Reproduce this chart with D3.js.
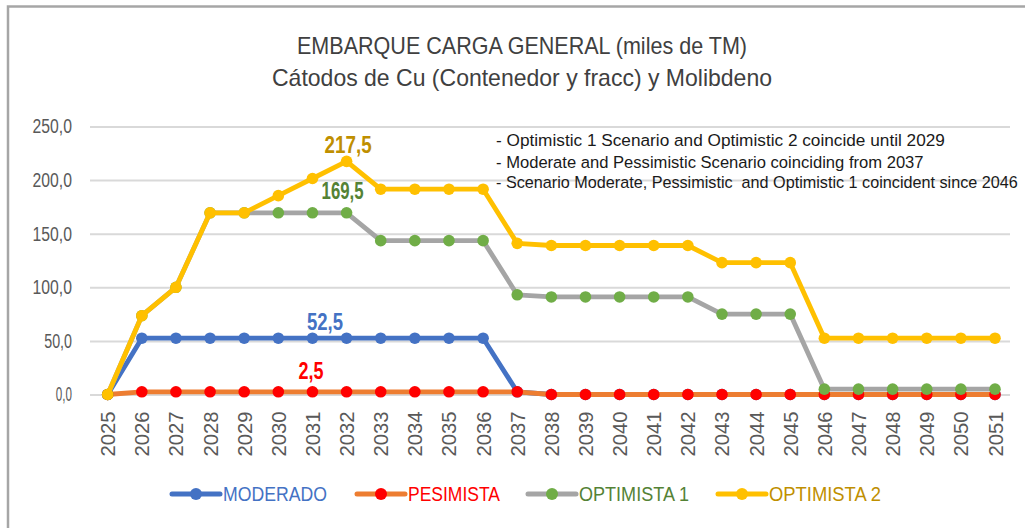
<!DOCTYPE html>
<html><head><meta charset="utf-8">
<script src="https://cdn.jsdelivr.net/npm/d3@7"></script>
<style>
html,body{margin:0;padding:0;background:#fff;}
svg{display:block;}
</style></head>
<body>
<svg id="chart" width="1025" height="528"></svg>
<script>
const years = d3.range(2025, 2052);
const moderado   = [0,52.5,52.5,52.5,52.5,52.5,52.5,52.5,52.5,52.5,52.5,52.5,2.5,0,0,0,0,0,0,0,0,0,0,0,0,0,0];
const pesimista  = [0,2.5,2.5,2.5,2.5,2.5,2.5,2.5,2.5,2.5,2.5,2.5,2.5,0,0,0,0,0,0,0,0,0,0,0,0,0,0];
const optimista1 = [0,73.5,100,169.5,169.5,169.5,169.5,169.5,143.5,143.5,143.5,143.5,93,91,91,91,91,91,75,75,75,5,5,5,5,5,5];
const optimista2 = [0,73.5,100,169.5,169.5,185.5,201.5,217.5,191.5,191.5,191.5,191.5,141,139,139,139,139,139,123,123,123,52.5,52.5,52.5,52.5,52.5,52.5];
const yTicks = [0,50,100,150,200,250];
const seriesNames = ["MODERADO","PESIMISTA","OPTIMISTA 1","OPTIMISTA 2"];
const titleLines = ["EMBARQUE CARGA GENERAL (miles de TM)","Cátodos de Cu (Contenedor y fracc) y Molibdeno"];
const notes = ["- Optimistic 1 Scenario and Optimistic 2 coincide until 2029",
               "- Moderate and Pessimistic Scenario coinciding from 2037",
               "- Scenario Moderate, Pessimistic  and Optimistic 1 coincident since 2046"];
// labels: [series index, year, value text]
const dataLabels = [[3,2032,"217,5"],[2,2032,"169,5"],[0,2031,"52,5"],[1,2031,"2,5"]];

const series = [
  {name:seriesNames[0], values:moderado,   line:"#4472C4", marker:"#4472C4", text:"#4472C4"},
  {name:seriesNames[1], values:pesimista,  line:"#ED7D31", marker:"#FF0000", text:"#FF0000"},
  {name:seriesNames[2], values:optimista1, line:"#A5A5A5", marker:"#70AD47", text:"#548235"},
  {name:seriesNames[3], values:optimista2, line:"#FFC000", marker:"#FFC000", text:"#BF8F00"}
];

const svg = d3.select("#chart");
const font = "'Liberation Sans Narrow','Arial Narrow','Liberation Sans',Arial,sans-serif";
const x = d3.scalePoint().domain(years).range([107.7, 995]);
const y = d3.scaleLinear().domain([0,250]).range([394.5,126.5]);

// outer border (top + left visible)
svg.append("path").attr("d","M8,528 V6.5 H1025").attr("fill","none").attr("stroke","#A6A6A6").attr("stroke-width",2.5);

// title
titleLines.forEach((t,i)=>{
  svg.append("text").attr("x",522).attr("y",[54,86][i]).attr("text-anchor","middle")
    .attr("font-family",font).attr("font-size",24).attr("fill","#404040")
    .attr("textLength",[450,500][i]).attr("lengthAdjust","spacingAndGlyphs").text(t);
});

// gridlines + y labels
const fmt = d=>d3.format(".1f")(d).replace(".",",");
const yAxis = d3.axisLeft(y).tickValues(yTicks).tickSize(-920).tickFormat(fmt);
const ga = svg.append("g").attr("transform","translate(90,0)").call(yAxis);
ga.select(".domain").remove();
ga.selectAll(".tick line").attr("stroke","#D9D9D9").attr("stroke-width",2);
ga.selectAll(".tick text").attr("x",-18).attr("font-family",font).attr("font-size",20)
  .attr("fill","#595959")
  .attr("textLength",d=>{const s=fmt(d);return (s.length-2)*11.6+4.6;})
  .attr("lengthAdjust","spacingAndGlyphs");

// x axis labels
const xAxis = d3.axisBottom(x).tickSize(0).tickFormat(d=>String(d));
const gx = svg.append("g").attr("transform","translate(0,394.5)").call(xAxis);
gx.select(".domain").remove();
gx.selectAll(".tick text").attr("transform","rotate(-90)").attr("x",-17).attr("y",0).attr("dy","0.35em")
  .attr("text-anchor","end").attr("font-family",font).attr("font-size",20).attr("fill","#595959")
  .attr("textLength",45).attr("lengthAdjust","spacingAndGlyphs");

// notes (horizontally scaled to the measured widths)
const noteW = [449,428,522];
notes.forEach((t,i)=>{
  const g = svg.append("g");
  const tx = g.append("text").attr("x",0).attr("y",0).attr("font-family",font)
    .attr("font-size",17).attr("fill","#1a1a1a").style("white-space","pre").text(t);
  const nat = tx.node().getComputedTextLength();
  g.attr("transform",`translate(496,${[146,168,188][i]}) scale(${noteW[i]/nat},1)`);
});

// series
const line = d3.line().x((d,i)=>x(years[i])).y(d=>y(d));
series.forEach(s=>{
  const g = svg.append("g");
  g.append("path").datum(s.values).attr("d",line).attr("fill","none")
    .attr("stroke",s.line).attr("stroke-width",4.8).attr("stroke-linejoin","round");
  g.selectAll("circle").data(s.values).join("circle")
    .attr("cx",(d,i)=>x(years[i])).attr("cy",d=>y(d)).attr("r",5.8).attr("fill",s.marker);
});

// data labels
const labelOffsets = {"217,5":[1.5,-8],"169,5":[-4,-14],"52,5":[12.5,-8],"2,5":[-1.5,-13]};
const labelWidths = {"217,5":47,"169,5":42,"52,5":36,"2,5":25};
dataLabels.forEach(([si,yr,txt])=>{
  const s = series[si];
  const v = s.values[years.indexOf(yr)];
  const o = labelOffsets[txt];
  svg.append("text").attr("x",x(yr)+o[0]).attr("y",y(v)+o[1]).attr("text-anchor","middle")
    .attr("font-family",font).attr("font-weight","bold").attr("font-size",23).attr("fill",s.text)
    .attr("textLength",labelWidths[txt]).attr("lengthAdjust","spacingAndGlyphs").text(txt);
});

// legend
const legX = [172,357,528,718];
const legW = [104,92,110,112];
series.forEach((s,i)=>{
  const g = svg.append("g").attr("transform",`translate(${legX[i]},494)`);
  g.append("line").attr("x1",0).attr("x2",48).attr("y1",0).attr("y2",0)
    .attr("stroke",s.line).attr("stroke-width",5).attr("stroke-linecap","round");
  g.append("circle").attr("cx",24).attr("cy",0).attr("r",6).attr("fill",s.marker);
  g.append("text").attr("x",51).attr("y",0).attr("dy","0.35em").attr("font-family",font)
    .attr("font-size",20).attr("fill",s.text).attr("textLength",legW[i])
    .attr("lengthAdjust","spacingAndGlyphs").text(s.name);
});
</script>
</body></html>
